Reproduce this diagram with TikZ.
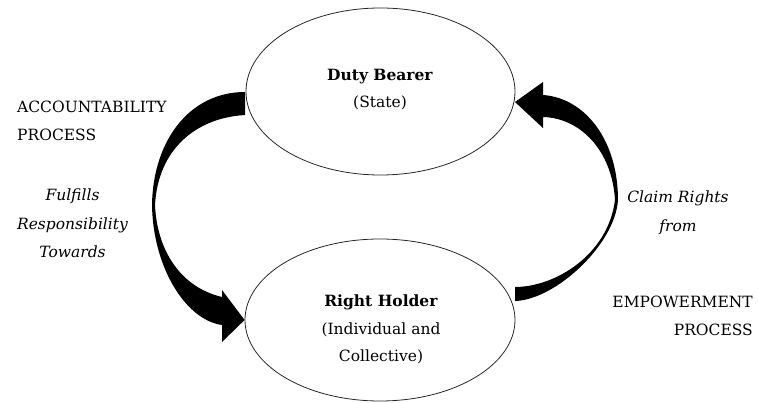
\documentclass[tikz,border=0pt]{standalone}
\usepackage{fontspec}
\setmainfont{DejaVu Serif}
\usepackage{tikz}
\usetikzlibrary{shapes.geometric, positioning}
\definecolor{rim}{RGB}{40,40,40}

\begin{document}
\begin{tikzpicture}[x=1pt, y=-1pt,
    party/.style={ellipse, draw=rim, line width=0.8pt, inner sep=0pt},
    txt/.style={font=\fontsize{15.5}{27.5}\selectfont, inner sep=0pt, align=center},
    bigarrow/.style={fill=black, draw=none}]
    \useasboundingbox (0,0) rectangle (758,403);
    % the two parties
    \node[party, minimum width=269pt, minimum height=167pt] (duty) at (380.5,91.5) {};
    \node[party, minimum width=270pt, minimum height=162pt] (holder) at (380,320) {};
    \node[txt] (dutytext) at (380,89.5) {\textbf{Duty Bearer}\\(State)};
    \node[txt] (holdertext) at (381,329.5) {\textbf{Right Holder}\\(Individual and\\Collective)};
    % accountability arrow (left)
    \fill[bigarrow] (245,92) .. controls (190,92) and (153,140) .. (152,205)
      .. controls (153,268) and (186,320) .. (222,325)
      -- (222,342) -- (holder.west) -- (222,290) -- (222,297)
      .. controls (180,287) and (157,250) .. (155,205)
      .. controls (158,150) and (195,118) .. (245,115) -- cycle;
    % empowerment arrow (right)
    \fill[bigarrow] (515,102) -- (543,82) -- (543,95)
      .. controls (585,98) and (618,140) .. (618,200)
      .. controls (615,245) and (555,300) .. (515,301)
      -- (515,287)
      .. controls (555,287) and (608,255) .. (615,200)
      .. controls (612,150) and (580,118) .. (543,117)
      -- (543,128) -- cycle;
    % process labels
    \node[txt, align=left, anchor=west] (account) at (17,121) {ACCOUNTABILITY\\PROCESS};
    \node[txt, align=right, anchor=east] (empower) at (753,316) {EMPOWERMENT\\PROCESS};
    \node[txt, font=\fontsize{15.5}{28.5}\selectfont\itshape] (fulfil) at (72.5,223.5) {Fulfills\\Responsibility\\Towards};
    \node[txt, font=\fontsize{15.5}{28.5}\selectfont\itshape] (claim) at (678,212.5) {Claim Rights\\from};
\end{tikzpicture}
\end{document}
